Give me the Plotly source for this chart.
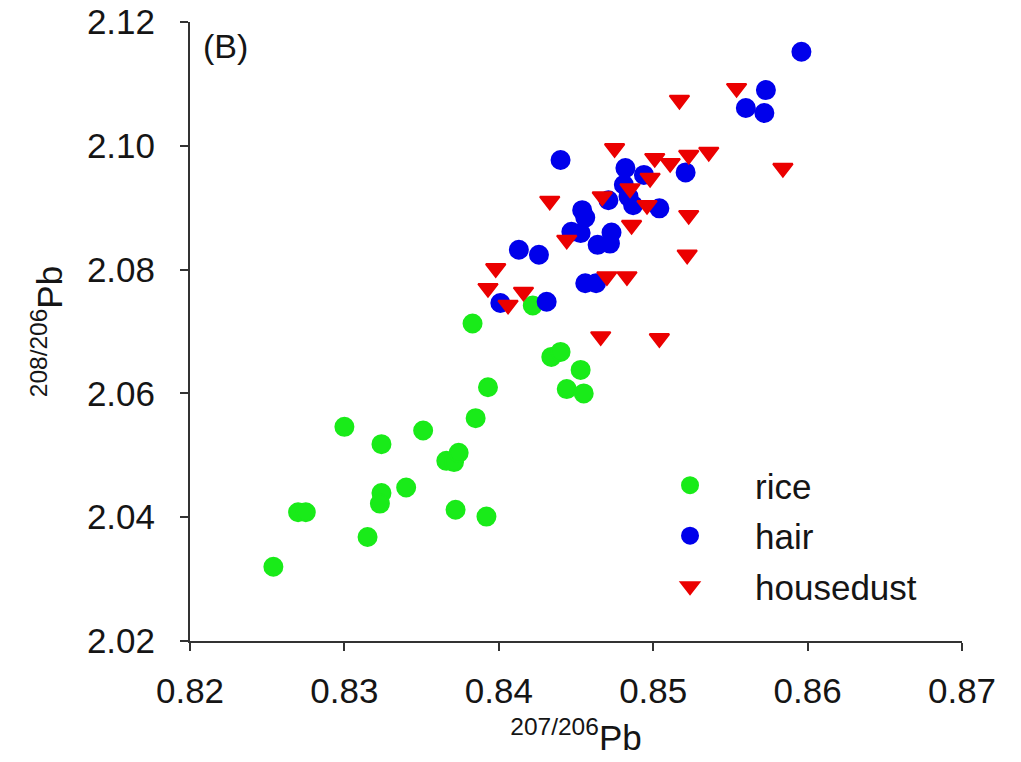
import plotly.graph_objects as go

# 207/206Pb and 208/206Pb isotope ratios per sample type
rice_x = [0.8254, 0.8270, 0.8275, 0.8300, 0.8324, 0.8351, 0.8324, 0.8323, 0.8340,
          0.8315, 0.8366, 0.8371, 0.8374, 0.8372, 0.8392, 0.8385, 0.8393, 0.8383,
          0.8422, 0.8434, 0.8440, 0.8453, 0.8444, 0.8455]
rice_y = [2.0320, 2.0408, 2.0408, 2.0546, 2.0518, 2.0540, 2.0439, 2.0422, 2.0448,
          2.0368, 2.0491, 2.0489, 2.0504, 2.0412, 2.0401, 2.0560, 2.0610, 2.0713,
          2.0742, 2.0659, 2.0667, 2.0638, 2.0607, 2.0600]

hair_x = [0.8440, 0.8482, 0.8494, 0.8521, 0.8481, 0.8484, 0.8487, 0.8471, 0.8504,
          0.8454, 0.8456, 0.8447, 0.8453, 0.8473, 0.8464, 0.8472, 0.8413, 0.8426,
          0.8456, 0.8463, 0.8401, 0.8431, 0.8596, 0.8573, 0.8560, 0.8572]
hair_y = [2.0977, 2.0964, 2.0953, 2.0957, 2.0937, 2.0918, 2.0904, 2.0912, 2.0899,
          2.0896, 2.0884, 2.0861, 2.0859, 2.0860, 2.0840, 2.0842, 2.0832, 2.0824,
          2.0778, 2.0778, 2.0746, 2.0748, 2.1152, 2.1090, 2.1061, 2.1053]

dust_x = [0.8475, 0.8501, 0.8511, 0.8523, 0.8536, 0.8498, 0.8485, 0.8467, 0.8433,
          0.8496, 0.8523, 0.8486, 0.8444, 0.8522, 0.8398, 0.8470, 0.8483, 0.8393,
          0.8416, 0.8406, 0.8466, 0.8504, 0.8517, 0.8554, 0.8584]
dust_y = [2.0996, 2.0980, 2.0972, 2.0985, 2.0990, 2.0948, 2.0931, 2.0918, 2.0911,
          2.0904, 2.0888, 2.0872, 2.0848, 2.0824, 2.0802, 2.0789, 2.0789, 2.0770,
          2.0764, 2.0743, 2.0692, 2.0689, 2.1074, 2.1093, 2.0964]

x_ticks = [0.82, 0.83, 0.84, 0.85, 0.86, 0.87]
y_ticks = [2.02, 2.04, 2.06, 2.08, 2.10, 2.12]

FONT = "Arial, Liberation Sans, sans-serif"
TXT = "#151515"
GREEN = "rgb(25,235,25)"
BLUE = "rgb(0,0,235)"
RED = "rgb(235,0,0)"

fig = go.Figure()
fig.add_trace(go.Scatter(x=rice_x, y=rice_y, mode="markers", name="rice",
                         legendgroup="a",
                         marker=dict(symbol="circle", size=18, color=GREEN,
                                     line=dict(color=GREEN, width=2))))
fig.add_trace(go.Scatter(x=hair_x, y=hair_y, mode="markers", name="hair",
                         legendgroup="b",
                         marker=dict(symbol="circle", size=18, color=BLUE,
                                     line=dict(color=BLUE, width=2))))
fig.add_trace(go.Scatter(x=dust_x, y=dust_y, mode="markers", name="housedust",
                         legendgroup="c",
                         marker=dict(symbol="triangle-down", size=17, color=RED,
                                     line=dict(color=RED, width=2))))

axis_common = dict(showline=True, linecolor="#333333", linewidth=2, ticks="outside",
                   ticklen=8, tickwidth=2, tickcolor="#333333", showgrid=False,
                   zeroline=False, mirror=False, automargin=False,
                   tickfont=dict(family=FONT, size=35, color=TXT))

fig.update_layout(
    width=1021, height=762,
    margin=dict(l=190, r=59, t=22, b=121),
    paper_bgcolor="white", plot_bgcolor="white",
    font=dict(family=FONT, color=TXT),
    xaxis=dict(range=[0.82, 0.87], tickvals=x_ticks,
               ticktext=[f"{v:.2f}" for v in x_ticks],
               ticklabelstandoff=10,
               title=dict(text="<sup>207/206</sup>Pb", font=dict(family=FONT, size=35),
                          standoff=16),
               **axis_common),
    yaxis=dict(range=[2.02, 2.12], tickvals=y_ticks,
               ticktext=[f"{v:.2f}" for v in y_ticks],
               ticklabelstandoff=18,
               title=dict(text="<sup>208/206</sup>Pb", font=dict(family=FONT, size=35),
                          standoff=14),
               **axis_common),
    legend=dict(x=0.5635, y=0.299, xanchor="left", yanchor="top",
                font=dict(family=FONT, size=35, color=TXT), bgcolor="rgba(0,0,0,0)",
                tracegroupgap=2, itemwidth=120),
    showlegend=True,
    annotations=[dict(text="(B)", x=0.014, y=0.995, xref="paper", yref="paper",
                      xanchor="left", yanchor="top", showarrow=False,
                      font=dict(family=FONT, size=34, color=TXT))],
)

fig.write_html("out.html")
